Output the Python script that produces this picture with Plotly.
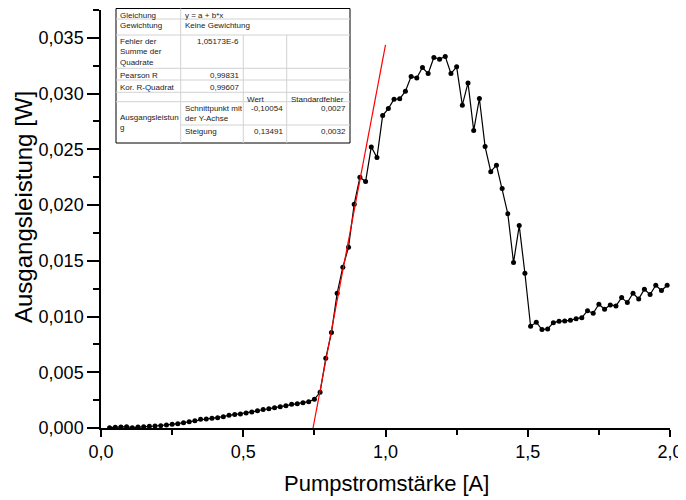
import plotly.graph_objects as go

# Messdaten: Pumpstrom [A] und Ausgangsleistung [W]
strom = [0.03, 0.05, 0.07, 0.09, 0.11, 0.13, 0.15, 0.17, 0.19, 0.21,
         0.23, 0.25, 0.27, 0.29, 0.31, 0.33, 0.35, 0.37, 0.39, 0.41,
         0.43, 0.45, 0.47, 0.49, 0.51, 0.53, 0.55, 0.57, 0.59, 0.61,
         0.63, 0.65, 0.67, 0.69, 0.71, 0.73, 0.75, 0.77, 0.79, 0.81,
         0.83, 0.85, 0.87, 0.89, 0.91, 0.93, 0.95, 0.97, 0.99, 1.01,
         1.03, 1.05, 1.07, 1.09, 1.11, 1.13, 1.15, 1.17, 1.19, 1.21,
         1.23, 1.25, 1.27, 1.29, 1.31, 1.33, 1.35, 1.37, 1.39, 1.41,
         1.43, 1.45, 1.47, 1.49, 1.51, 1.53, 1.55, 1.57, 1.59, 1.61,
         1.63, 1.65, 1.67, 1.69, 1.71, 1.73, 1.75, 1.77, 1.79, 1.81,
         1.83, 1.85, 1.87, 1.89, 1.91, 1.93, 1.95, 1.97, 1.99]
leistung = [0.00003, 0.00006, 0.00009, 0.00012, 0.00003, 0.00009, 0.00012, 0.00015, 0.00018, 0.00021,
            0.00027, 0.00033, 0.00039, 0.00048, 0.00057, 0.00066, 0.00078, 0.00081, 0.00087, 0.00093,
            0.00102, 0.00114, 0.00120, 0.00126, 0.00135, 0.00144, 0.00155, 0.00167, 0.00173, 0.00182,
            0.00191, 0.00200, 0.00212, 0.00218, 0.00227, 0.00236, 0.00257, 0.00320, 0.00625, 0.00856,
            0.01209, 0.01442, 0.01622, 0.02008, 0.02250, 0.02211, 0.02522, 0.02426, 0.02803, 0.02866,
            0.02950, 0.02953, 0.03022, 0.03153, 0.03141, 0.03234, 0.03180, 0.03324, 0.03309, 0.03333,
            0.03180, 0.03240, 0.02896, 0.03096, 0.02668, 0.02956, 0.02525, 0.02300, 0.02358, 0.02148,
            0.01921, 0.01484, 0.01816, 0.01388, 0.00913, 0.00949, 0.00883, 0.00889, 0.00945, 0.00957,
            0.00960, 0.00966, 0.00981, 0.00990, 0.01053, 0.01029, 0.01110, 0.01065, 0.01104, 0.01095,
            0.01170, 0.01125, 0.01209, 0.01158, 0.01245, 0.01197, 0.01281, 0.01233, 0.01281]

# linearer Fit y = a + b*x
fit_a = -0.10054
fit_b = 0.13491
fit_x_end = 1.0

fit_x = [-fit_a / fit_b, fit_x_end]
fit_y = [fit_a + fit_b * x for x in fit_x]

# page has an 8px body margin -> figure is 8px smaller, positions given in page pixels
OFF = 8
W, H = 686 - OFF, 500 - OFF
P_LEFT, P_RIGHT, P_TOP, P_BOT = 101, 670, 10, 428
L, R, T, B = P_LEFT - OFF, W - (P_RIGHT - OFF), P_TOP - OFF, H - (P_BOT - OFF)
PW, PH = P_RIGHT - P_LEFT, P_BOT - P_TOP

FONT = "Arial, Liberation Sans, sans-serif"

fig = go.Figure()
fig.add_trace(go.Scatter(x=strom, y=leistung, mode="lines+markers",
                         line=dict(color="black", width=1.2),
                         marker=dict(color="black", size=5), showlegend=False))
fig.add_trace(go.Scatter(x=fit_x, y=fit_y, mode="lines",
                         line=dict(color="red", width=1.2), showlegend=False))


def px(p):
    return (p - P_LEFT) / PW


def py(p):
    return (P_BOT - p) / PH


# Ergebnistabelle des Fits (Origin-Stil)
cols = [116, 180.7, 243.3, 286.7, 350]
rows = [8.5, 19, 35, 68.3, 80, 92.3, 101.7, 125, 143]
grey = "#d2d2d2"
shapes = [dict(type="rect", xref="paper", yref="paper", x0=px(cols[0]), x1=px(cols[4]),
               y0=py(rows[8]), y1=py(rows[0]), line=dict(color="black", width=1),
               fillcolor="white", layer="above")]
for r in rows[1:7]:
    shapes.append(dict(type="line", xref="paper", yref="paper", x0=px(cols[0]), x1=px(cols[4]),
                       y0=py(r), y1=py(r), line=dict(color=grey, width=1)))
shapes.append(dict(type="line", xref="paper", yref="paper", x0=px(cols[1]), x1=px(cols[4]),
                   y0=py(rows[7]), y1=py(rows[7]), line=dict(color=grey, width=1)))
shapes.append(dict(type="line", xref="paper", yref="paper", x0=px(cols[1]), x1=px(cols[1]),
                   y0=py(rows[0]), y1=py(rows[8]), line=dict(color=grey, width=1)))
for c in cols[2:4]:
    shapes.append(dict(type="line", xref="paper", yref="paper", x0=px(c), x1=px(c),
                       y0=py(rows[2]), y1=py(rows[8]), line=dict(color=grey, width=1)))

cells = [
    # text, col, row, align
    ("Gleichung", 0, 0, "left"),
    ("y = a + b*x", 1, 0, "left"),
    ("Gewichtung", 0, 1, "left"),
    ("Keine Gewichtung", 1, 1, "left"),
    ("Fehler der<br>Summe der<br>Quadrate", 0, 2, "left"),
    ("1,05173E-6", 1, 2, "right"),
    ("Pearson R", 0, 3, "left"),
    ("0,99831", 1, 3, "right"),
    ("Kor. R-Quadrat", 0, 4, "left"),
    ("0,99607", 1, 4, "right"),
    ("Wert", 2, 5, "left"),
    ("Standardfehler", 3, 5, "left"),
    ("Schnittpunkt mit<br>der Y-Achse", 1, 6, "left"),
    ("-0,10054", 2, 6, "right"),
    ("0,0027", 3, 6, "right"),
    ("Steigung", 1, 7, "left"),
    ("0,13491", 2, 7, "right"),
    ("0,0032", 3, 7, "right"),
]
annotations = []
for text, c, r, al in cells:
    x = cols[c] + 2 if al == "left" else cols[c + 1] - 2
    annotations.append(dict(text=text, xref="paper", yref="paper", x=px(x), y=py(rows[r] + 0.5),
                            xanchor=al, yanchor="top", align=al, showarrow=False,
                            font=dict(size=8, color="#222", family=FONT)))
annotations.append(dict(text="Ausgangsleistun<br>g", xref="paper", yref="paper",
                        x=px(cols[0] + 2), y=py((rows[6] + rows[8]) / 2),
                        xanchor="left", yanchor="middle", align="left", showarrow=False,
                        font=dict(size=8, color="#222", family=FONT)))

# Achsentitel
annotations.append(dict(text="Pumpstromstärke [A]", xref="paper", yref="paper",
                        x=px(386), y=py(483), xanchor="center", yanchor="middle",
                        showarrow=False, font=dict(size=22, color="black", family=FONT)))
annotations.append(dict(text="Ausgangsleistung [W]", xref="paper", yref="paper",
                        x=px(24), y=py(207), xanchor="center", yanchor="middle", textangle=-90,
                        showarrow=False, font=dict(size=24, color="black", family=FONT)))

fig.update_layout(
    width=W, height=H,
    margin=dict(l=L, r=R, t=T, b=B),
    plot_bgcolor="white", paper_bgcolor="white",
    separators=", ",
    font=dict(family=FONT, color="black"),
    shapes=shapes, annotations=annotations,
    xaxis=dict(range=[0, 2.0], tickvals=[0, 0.5, 1.0, 1.5, 2.0], tickformat=".1f",
               automargin=False,
               showgrid=False, zeroline=False, showline=True, linecolor="black", linewidth=1.5,
               ticks="outside", ticklen=7, tickwidth=1.5, tickcolor="black",
               minor=dict(tickvals=[0.25, 0.75, 1.25, 1.75], ticks="outside", ticklen=5,
                          tickwidth=1.5, tickcolor="black"),
               tickfont=dict(size=18)),
    yaxis=dict(range=[0, 0.0375], tickvals=[0, 0.005, 0.01, 0.015, 0.02, 0.025, 0.03, 0.035],
               tickformat=".3f", automargin=False,
               showgrid=False, zeroline=False, showline=True, linecolor="black", linewidth=1.5,
               ticks="outside", ticklen=12, tickwidth=1.5, tickcolor="black",
               minor=dict(tickvals=[0.0025, 0.0075, 0.0125, 0.0175, 0.0225, 0.0275, 0.0325, 0.0375],
                          ticks="outside", ticklen=6, tickwidth=1.5, tickcolor="black"),
               tickfont=dict(size=18)),
)

fig.write_html("out.html")
